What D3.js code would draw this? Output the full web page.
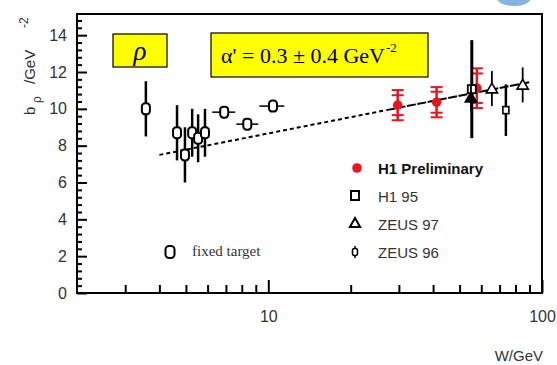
<!DOCTYPE html>
<html>
<head>
<meta charset="utf-8">
<script src="https://cdn.jsdelivr.net/npm/d3@7"></script>
<style>
  body { margin: 0; background: #fff; }
  svg { display: block; }
</style>
</head>
<body>
<svg id="chart" width="557" height="365"></svg>
<script>
// ---- data: rho slope parameter b vs W ----
// fixed-target measurements (vertical errors, or W-bin widths)
const fixedW    = [3.57, 4.64, 4.96, 5.27, 5.54, 5.87, 6.9, 8.38, 10.4];
const fixedB    = [10.0, 8.7, 7.5, 8.7, 8.4, 8.7, 9.82, 9.17, 10.15];
const fixedErr  = [1.5, 1.5, 1.5, 1.3, 1.3, 1.3, 0, 0, 0];
const fixedWLo  = [3.57, 4.64, 4.96, 5.27, 5.54, 5.87, 6.24, 7.64, 9.27];
const fixedWHi  = [3.57, 4.64, 4.96, 5.27, 5.54, 5.87, 7.57, 9.19, 11.44];

// H1 preliminary: statistical and total errors
const h1pW     = [29.7, 41.2, 57.8];
const h1pB     = [10.2, 10.36, 11.12];
const h1pStat  = [0.54, 0.57, 0.8];
const h1pTot   = [0.82, 0.82, 1.08];

const h195W   = [55.4];
const h195B   = [11.07];
const h195Err = [2.66];

const zeus97W   = [55.0, 65.6, 85.0];
const zeus97B   = [10.6, 11.1, 11.3];
const zeus97Err = [0.7, 0.95, 0.95];

const zeus96W   = [73.8];
const zeus96B   = [9.93];
const zeus96Err = [1.4];

// Regge fit b = b0 + 4 alpha' ln W, drawn from W = 4 to 90 GeV
const fitW = [4, 27, 90];
const fitB = [7.5, 9.93, 11.45];

const xTicksMinor = [3, 4, 5, 6, 7, 8, 9, 20, 30, 40, 50, 60, 70, 80, 90];
const xTicksMajor = [10, 100];
const yTicksMajor = [0, 2, 4, 6, 8, 10, 12, 14];

const legendLabels = ["H1 Preliminary", "H1 95", "ZEUS 97", "ZEUS 96"];

// ---- layout ----
const svg = d3.select("#chart");
const plotL = 77, plotR = 542, plotT = 14, plotB = 293;

const x = d3.scaleLog().domain([2, 100]).range([plotL, plotR]);
const y = d3.scaleLinear().domain([0, 15.15]).range([plotB, plotT]);

const labelColor = "#333";
const red = "#e8141e";
const sans = "'Liberation Sans', Arial, sans-serif";
const serif = "'Liberation Serif', 'Times New Roman', serif";

// faint blue logo fragment at the top edge
svg.append("ellipse")
  .attr("cx", 514).attr("cy", -2).attr("rx", 17).attr("ry", 8)
  .attr("fill", "#5a9ad6").attr("opacity", 0.75);

// frame
svg.append("rect")
  .attr("x", plotL).attr("y", plotT)
  .attr("width", plotR - plotL).attr("height", plotB - plotT)
  .attr("fill", "none").attr("stroke", "#000").attr("stroke-width", 2);

// x axis: minor ticks, then labelled decades
const xMinor = svg.append("g").attr("transform", `translate(0,${plotB})`)
  .call(d3.axisBottom(x).tickValues(xTicksMinor).tickSize(-8).tickFormat(""));
const xMajor = svg.append("g").attr("transform", `translate(0,${plotB})`)
  .call(d3.axisBottom(x).tickValues(xTicksMajor).tickSize(-13).tickPadding(18)
    .tickFormat(d3.format("d")));

// y axis: minor every 0.4, major every 2
const yMinorVals = d3.range(0, 15.2, 0.4).filter(v => Math.abs(v / 2 - Math.round(v / 2)) > 1e-6);
const yMinor = svg.append("g").attr("transform", `translate(${plotL},0)`)
  .call(d3.axisLeft(y).tickValues(yMinorVals).tickSize(-5).tickFormat(""));
const yMajor = svg.append("g").attr("transform", `translate(${plotL},0)`)
  .call(d3.axisLeft(y).tickValues(yTicksMajor).tickSize(-10).tickPadding(10)
    .tickFormat(d3.format("d")));

[xMinor, xMajor, yMinor, yMajor].forEach(g => {
  g.select(".domain").remove();
  g.selectAll(".tick line").attr("stroke", "#000").attr("stroke-width", 2);
  g.selectAll("text").attr("fill", labelColor)
    .style("font-family", sans)
    .style("font-size", "16px");
});

// axis titles
svg.append("text").attr("x", 543).attr("y", 361).attr("text-anchor", "end")
  .attr("fill", labelColor).style("font-family", sans).style("font-size", "15px")
  .text("W/GeV");

function rotText(px, py, size, str) {
  svg.append("text").attr("transform", `translate(${px},${py}) rotate(-90)`)
    .attr("fill", labelColor).style("font-family", sans).style("font-size", size + "px")
    .text(str);
}
rotText(35, 115, 15, "b");
rotText(41, 103, 12, "ρ");
rotText(35, 84, 15, "/GeV");
rotText(28, 28, 12, "-2");

// ---- annotation boxes ----
svg.append("rect").attr("x", 113).attr("y", 34).attr("width", 54).attr("height", 33)
  .attr("fill", "#ffff00").attr("stroke", "#000").attr("stroke-width", 1.2);
svg.append("text").attr("x", 140).attr("y", 60).attr("text-anchor", "middle")
  .style("font-family", serif)
  .style("font-style", "italic").style("font-size", "27px").text("ρ");

svg.append("rect").attr("x", 211).attr("y", 33).attr("width", 217).attr("height", 44)
  .attr("fill", "#ffff00").attr("stroke", "#000").attr("stroke-width", 1.2);
const at = svg.append("text").attr("x", 221).attr("y", 63)
  .style("font-family", serif)
  .style("font-size", "22px");
at.append("tspan").text("α' = 0.3 ± 0.4 GeV");
at.append("tspan").attr("dx", 1).attr("dy", -11).style("font-size", "13px").text("-2");

// ---- fit line: dashed at low W, solid over the HERA range ----
const fitLine = d3.line().x(d => x(d[0])).y(d => y(d[1]));
svg.append("path").datum([[fitW[0], fitB[0]], [fitW[1], fitB[1]]])
  .attr("d", fitLine).attr("fill", "none").attr("stroke", "#000")
  .attr("stroke-width", 2).attr("stroke-dasharray", "4,3");
svg.append("path").datum([[fitW[1], fitB[1]], [fitW[2], fitB[2]]])
  .attr("d", fitLine).attr("fill", "none").attr("stroke", "#000")
  .attr("stroke-width", 2).attr("stroke-dasharray", "9,1.5");

// ---- fixed target ----
const fixed = fixedW.map((w, i) => ({ w, b: fixedB[i], e: fixedErr[i], lo: fixedWLo[i], hi: fixedWHi[i] }));
const gF = svg.append("g");
gF.selectAll("line.v").data(fixed.filter(d => d.e > 0)).join("line")
  .attr("x1", d => x(d.w)).attr("x2", d => x(d.w))
  .attr("y1", d => y(d.b + d.e)).attr("y2", d => y(d.b - d.e))
  .attr("stroke", "#000").attr("stroke-width", 2.5);
gF.selectAll("line.h").data(fixed.filter(d => d.hi > d.lo)).join("line")
  .attr("x1", d => x(d.lo)).attr("x2", d => x(d.hi))
  .attr("y1", d => y(d.b)).attr("y2", d => y(d.b))
  .attr("stroke", "#000").attr("stroke-width", 1.5);
function fixedMarker(g, cx, cy, w, h) {
  g.append("rect").attr("x", cx - w / 2).attr("y", cy - h / 2)
    .attr("width", w).attr("height", h).attr("rx", w / 2.4).attr("ry", h / 3.5)
    .attr("fill", "#fff").attr("stroke", "#000").attr("stroke-width", 2);
}
fixed.forEach(d => fixedMarker(gF, x(d.w), y(d.b), 8, 11));

// ---- H1 preliminary ----
const gH = svg.append("g");
const h1p = h1pW.map((w, i) => ({ w, b: h1pB[i], s: h1pStat[i], t: h1pTot[i] }));
h1p.forEach(d => {
  const cx = x(d.w);
  gH.append("line").attr("x1", cx).attr("x2", cx)
    .attr("y1", y(d.b + d.t)).attr("y2", y(d.b - d.t))
    .attr("stroke", red).attr("stroke-width", 2.5);
  [d.b + d.t, d.b + d.s, d.b - d.s, d.b - d.t].forEach(v => {
    gH.append("line").attr("x1", cx - 6).attr("x2", cx + 6)
      .attr("y1", y(v)).attr("y2", y(v))
      .attr("stroke", red).attr("stroke-width", 2);
  });
  gH.append("circle").attr("cx", cx).attr("cy", y(d.b)).attr("r", 4.8).attr("fill", red);
});

// ---- H1 95 ----
const gO = svg.append("g");
h195W.forEach((w, i) => {
  const cx = x(w), b = h195B[i], e = h195Err[i];
  gO.append("line").attr("x1", cx).attr("x2", cx).attr("y1", y(b + e)).attr("y2", y(b - e))
    .attr("stroke", "#000").attr("stroke-width", 3);
  gO.append("rect").attr("x", cx - 4).attr("y", y(b) - 4).attr("width", 8).attr("height", 8)
    .attr("fill", "#fff").attr("stroke", "#000").attr("stroke-width", 1.8);
});

// ---- ZEUS 97 ----
const tri = d3.symbol().type(d3.symbolTriangle).size(55);
zeus97W.forEach((w, i) => {
  const cx = x(w), b = zeus97B[i], e = zeus97Err[i];
  gO.append("line").attr("x1", cx).attr("x2", cx).attr("y1", y(b + e)).attr("y2", y(b - e))
    .attr("stroke", "#000").attr("stroke-width", 1.8);
  gO.append("path").attr("d", tri()).attr("transform", `translate(${cx},${y(b) + 1})`)
    .attr("fill", i === 0 ? "#000" : "#fff").attr("stroke", "#000").attr("stroke-width", 1.6);
});

// ---- ZEUS 96 ----
zeus96W.forEach((w, i) => {
  const cx = x(w), b = zeus96B[i], e = zeus96Err[i];
  gO.append("line").attr("x1", cx).attr("x2", cx).attr("y1", y(b + e)).attr("y2", y(b - e))
    .attr("stroke", "#000").attr("stroke-width", 2.5);
  gO.append("rect").attr("x", cx - 3).attr("y", y(b) - 3.5).attr("width", 6).attr("height", 7)
    .attr("fill", "#fff").attr("stroke", "#000").attr("stroke-width", 1.6);
});

// ---- legend ----
const legY = [168, 196, 224, 252];
const gL = svg.append("g");
gL.append("circle").attr("cx", 357).attr("cy", legY[0]).attr("r", 4.8).attr("fill", red);
gL.append("rect").attr("x", 351).attr("y", legY[1] - 5).attr("width", 8).attr("height", 9)
  .attr("fill", "#fff").attr("stroke", "#000").attr("stroke-width", 2);
gL.append("path").attr("d", d3.symbol().type(d3.symbolTriangle).size(45)())
  .attr("transform", `translate(355,${legY[2]})`)
  .attr("fill", "#fff").attr("stroke", "#000").attr("stroke-width", 2);
gL.append("line").attr("x1", 355).attr("x2", 355).attr("y1", legY[3] - 6).attr("y2", legY[3] + 6)
  .attr("stroke", "#000").attr("stroke-width", 1.5);
gL.append("rect").attr("x", 352.5).attr("y", legY[3] - 3.5).attr("width", 5).attr("height", 7)
  .attr("rx", 2).attr("fill", "#fff").attr("stroke", "#000").attr("stroke-width", 1.6);
legendLabels.forEach((t, i) => {
  gL.append("text").attr("x", 378).attr("y", legY[i] + 5.5)
    .attr("fill", i === 0 ? "#111" : labelColor)
    .style("font-family", sans).style("font-size", "15px")
    .style("font-weight", i === 0 ? "bold" : "normal")
    .text(t);
});

fixedMarker(gL, 170, 252, 9, 12);
svg.append("text").attr("x", 192).attr("y", 256)
  .attr("fill", labelColor)
  .style("font-family", serif)
  .style("font-size", "15px").text("fixed target");
</script>
</body>
</html>
